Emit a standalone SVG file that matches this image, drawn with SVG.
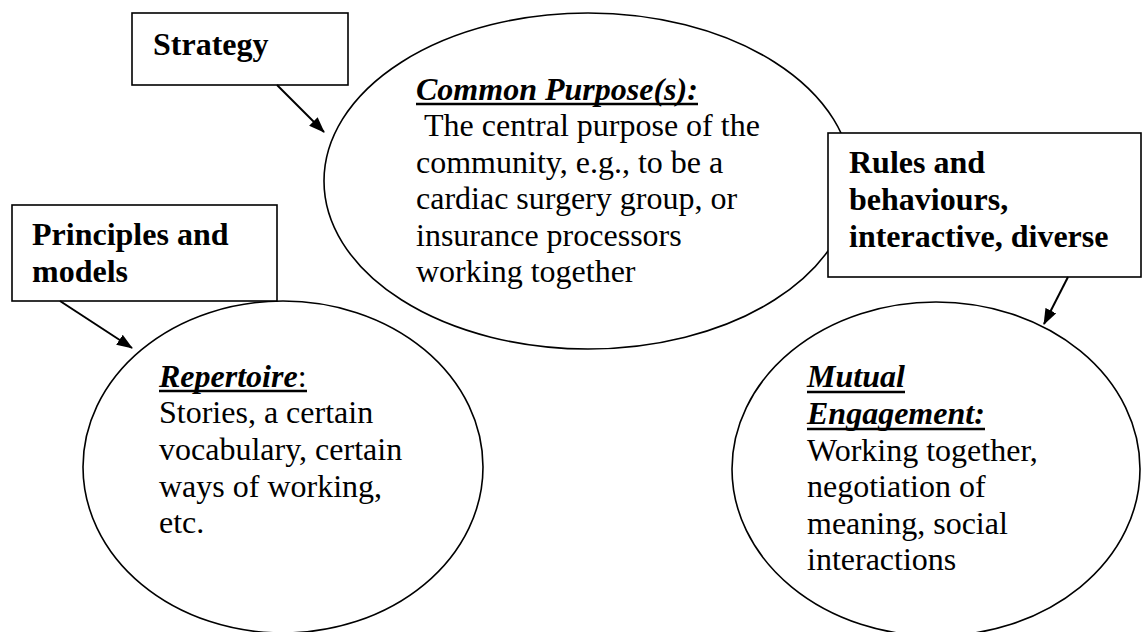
<svg xmlns="http://www.w3.org/2000/svg" width="1144" height="632" viewBox="0 0 1144 632">
<defs>
<style>
.shape{fill:#fff;stroke:#000;stroke-width:1.6}
.lbl{font-family:"Liberation Serif","Times New Roman",serif;font-size:32px;font-weight:bold;fill:#000}
.txt{font-family:"Liberation Serif","Times New Roman",serif;font-size:32px;fill:#000}
.ttl{font-weight:bold;font-style:italic}
.ul{stroke:#000;stroke-width:2.6}
.conn{stroke:#000;stroke-width:2;fill:none}
</style>
<marker id="arr" viewBox="0 0 16 12" refX="15" refY="6" markerWidth="16" markerHeight="12" markerUnits="userSpaceOnUse" orient="auto">
<path d="M0,0 L16,6 L0,12 Z" fill="#000"/>
</marker>
</defs>
<rect width="1144" height="632" fill="#fff"/>

<g id="common-purpose">
<ellipse class="shape" cx="588" cy="181" rx="264" ry="168"/>
<text class="txt ttl" x="416" y="100">Common Purpose(s):</text>
<line class="ul" x1="416" y1="104" x2="698" y2="104"/>
<text class="txt" x="424" y="136">The central purpose of the</text>
<text class="txt" x="416" y="173">community, e.g., to be a</text>
<text class="txt" x="416" y="209">cardiac surgery group, or</text>
<text class="txt" x="416" y="246">insurance processors</text>
<text class="txt" x="416" y="282">working together</text>
</g>

<g id="repertoire">
<ellipse class="shape" cx="283" cy="467" rx="200" ry="166"/>
<text class="txt" x="159" y="387"><tspan class="ttl">Repertoire</tspan>:</text>
<line class="ul" x1="159" y1="391" x2="307" y2="391"/>
<text class="txt" x="159" y="423">Stories, a certain</text>
<text class="txt" x="159" y="460">vocabulary, certain</text>
<text class="txt" x="159" y="497">ways of working,</text>
<text class="txt" x="159" y="533">etc.</text>
</g>

<g id="mutual-engagement">
<ellipse class="shape" cx="936" cy="469" rx="204" ry="167"/>
<text class="txt ttl" x="807" y="387">Mutual</text>
<line class="ul" x1="807" y1="392" x2="905" y2="392"/>
<text class="txt ttl" x="807" y="424">Engagement:</text>
<line class="ul" x1="807" y1="429" x2="985" y2="429"/>
<text class="txt" x="807" y="461">Working together,</text>
<text class="txt" x="807" y="497">negotiation of</text>
<text class="txt" x="807" y="534">meaning, social</text>
<text class="txt" x="807" y="570">interactions</text>
</g>

<g id="strategy">
<rect class="shape" x="132" y="13" width="216" height="72"/>
<text class="lbl" x="153" y="55">Strategy</text>
</g>

<g id="principles">
<rect class="shape" x="12" y="205" width="265" height="96"/>
<text class="lbl" x="32" y="245">Principles and</text>
<text class="lbl" x="32" y="282">models</text>
</g>

<g id="rules">
<rect class="shape" x="828" y="133" width="313" height="144"/>
<text class="lbl" x="849" y="173">Rules and</text>
<text class="lbl" x="849" y="210">behaviours,</text>
<text class="lbl" x="849" y="247">interactive, diverse</text>
</g>

<g id="connectors">
<line class="conn" x1="277" y1="85" x2="324" y2="132" marker-end="url(#arr)"/>
<line class="conn" x1="60" y1="301" x2="132" y2="348" marker-end="url(#arr)"/>
<line class="conn" x1="1068" y1="277" x2="1044" y2="324" marker-end="url(#arr)"/>
</g>
</svg>
